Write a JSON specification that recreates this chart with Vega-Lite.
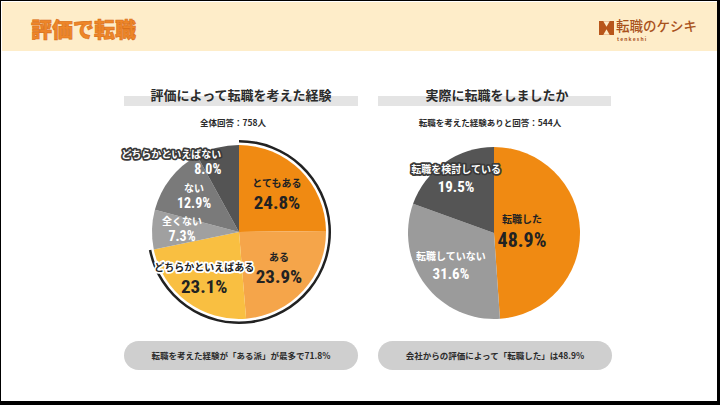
{
  "$schema": "https://vega.github.io/schema/vega-lite/v6.json",
  "width": 720,
  "height": 405,
  "autosize": {"type": "fit", "contains": "padding"},
  "padding": 0,
  "background": "#000000",
  "config": {"view": {"stroke": null}, "font": "Noto Sans CJK JP"},
  "datasets": {
    "left": [
      {"cat": "とてもある", "v": 0.248, "k": 1},
      {"cat": "ある", "v": 0.239, "k": 2},
      {"cat": "どちらかといえばある", "v": 0.231, "k": 3},
      {"cat": "全くない", "v": 0.073, "k": 4},
      {"cat": "ない", "v": 0.129, "k": 5},
      {"cat": "どちらかといえばない", "v": 0.080, "k": 6}
    ],
    "right": [
      {"cat": "転職した", "v": 0.489, "k": 1},
      {"cat": "転職していない", "v": 0.316, "k": 2},
      {"cat": "転職を検討している", "v": 0.195, "k": 3}
    ],
    "ring": [
      {"g": "ある派", "v": 0.718, "k": 1},
      {"g": "その他", "v": 0.282, "k": 2}
    ],
    "one": [{"id": 1}]
  },
  "layer": [
    {"data": {"name": "one"}, "mark": {"type": "rect", "x": 0, "x2": 716, "y": 0, "y2": 400, "color": "#ffffff"}, "encoding": {}},
    {"data": {"name": "one"}, "mark": {"type": "rect", "x": 1, "x2": 716, "y": 1, "y2": 50, "color": "#FEEDC9"}, "encoding": {}},
    {"data": {"name": "one"}, "mark": {"type": "text", "x": 30, "y": 30, "align": "left", "baseline": "middle", "fontSize": 21, "fontWeight": 900, "color": "#EE8628", "stroke": "#D9701A", "strokeWidth": 0.6, "text": "評価で転職"}, "encoding": {}},
    {"data": {"name": "one"}, "mark": {"type": "rect", "x": 598, "x2": 613, "y": 20, "y2": 34, "color": "#B8561A"}, "encoding": {}},
    {"data": {"name": "one"}, "mark": {"type": "point", "shape": "triangle-down", "x": 605.5, "y": 23, "size": 40, "filled": true, "color": "#FEEDC9", "opacity": 1}, "encoding": {}},
    {"data": {"name": "one"}, "mark": {"type": "point", "shape": "triangle-up", "x": 605.5, "y": 31, "size": 40, "filled": true, "color": "#FEEDC9", "opacity": 1}, "encoding": {}},
    {"data": {"name": "one"}, "mark": {"type": "text", "x": 615, "y": 26, "align": "left", "baseline": "middle", "fontSize": 13.5, "fontWeight": 500, "color": "#A9521C", "text": "転職のケシキ"}, "encoding": {}},
    {"data": {"name": "one"}, "mark": {"type": "text", "x": 616, "y": 38, "align": "left", "baseline": "middle", "fontSize": 5, "fontWeight": "bold", "color": "#A9521C", "text": "t    e    n    k    e    s    h    i"}, "encoding": {}},

    {"data": {"name": "one"}, "mark": {"type": "rect", "x": 123, "x2": 357, "y": 95, "y2": 105, "color": "#E4E4E4"}, "encoding": {}},
    {"data": {"name": "one"}, "mark": {"type": "rect", "x": 377, "x2": 610, "y": 95, "y2": 105, "color": "#E4E4E4"}, "encoding": {}},
    {"data": {"name": "one"}, "mark": {"type": "text", "x": 240, "y": 95, "align": "center", "baseline": "middle", "fontSize": 13, "fontWeight": "bold", "color": "#2b2b2b", "text": "評価によって転職を考えた経験"}, "encoding": {}},
    {"data": {"name": "one"}, "mark": {"type": "text", "x": 496, "y": 95, "align": "center", "baseline": "middle", "fontSize": 13, "fontWeight": "bold", "color": "#2b2b2b", "text": "実際に転職をしましたか"}, "encoding": {}},
    {"data": {"name": "one"}, "mark": {"type": "text", "x": 232, "y": 122, "align": "center", "baseline": "middle", "fontSize": 8.5, "fontWeight": "bold", "color": "#2b2b2b", "text": "全体回答：758人"}, "encoding": {}},
    {"data": {"name": "one"}, "mark": {"type": "text", "x": 489, "y": 122, "align": "center", "baseline": "middle", "fontSize": 8.5, "fontWeight": "bold", "color": "#2b2b2b", "text": "転職を考えた経験ありと回答：544人"}, "encoding": {}},
    {"data": {"name": "one"}, "mark": {"type": "rule", "x": 367, "y": 135, "y2": 357, "color": "#D2D2D2", "strokeWidth": 2}, "encoding": {}},

    {
      "data": {"name": "ring"},
      "mark": {"type": "arc", "x": 238, "y": 231, "radius": 92, "radius2": 89.5},
      "encoding": {
        "theta": {"field": "v", "type": "quantitative", "stack": true, "scale": {"domain": [0, 1]}},
        "order": {"field": "k", "type": "quantitative"},
        "detail": {"field": "g"},
        "color": {"condition": {"test": "datum.g == 'ある派'", "value": "#222222"}, "value": "transparent"}
      }
    },
    {
      "data": {"name": "left"},
      "mark": {"type": "arc", "x": 238, "y": 231, "radius": 87},
      "encoding": {
        "theta": {"field": "v", "type": "quantitative", "stack": true, "scale": {"domain": [0, 1]}},
        "order": {"field": "k", "type": "quantitative"},
        "color": {
          "field": "cat", "type": "nominal", "legend": null,
          "scale": {
            "domain": ["とてもある", "ある", "どちらかといえばある", "全くない", "ない", "どちらかといえばない", "転職した", "転職していない", "転職を検討している"],
            "range": ["#F08A12", "#F5A54A", "#F9BF41", "#A0A0A0", "#7A7A7A", "#545454", "#F08A12", "#9B9B9B", "#555555"]
          }
        }
      }
    },
    {
      "data": {"name": "right"},
      "mark": {"type": "arc", "x": 493, "y": 232, "radius": 86},
      "encoding": {
        "theta": {"field": "v", "type": "quantitative", "stack": true, "scale": {"domain": [0, 1]}},
        "order": {"field": "k", "type": "quantitative"},
        "color": {"field": "cat", "type": "nominal", "legend": null}
      }
    },

    {
      "data": {"name": "left"},
      "mark": {"type": "text", "x": 238, "y": 231, "radius": {"expr": "datum.k == 6 ? 71 : datum.k == 3 ? 58 : datum.k >= 4 ? 57 : 54"}, "align": {"expr": "datum.k == 6 ? 'right' : 'center'"}, "dy": {"expr": "datum.v > 0.2 ? -10 : -8"}, "fontSize": 10, "fontWeight": "bold", "strokeWidth": 3.5, "strokeJoin": "round"},
      "encoding": {
        "theta": {"field": "v", "type": "quantitative", "stack": true},
        "order": {"field": "k", "type": "quantitative"},
        "detail": {"field": "cat"},
        "text": {"field": "cat"},
        "fill": {"condition": [{"test": "datum.cat == 'どちらかといえばある'", "value": "#ffffff"}, {"test": "datum.cat == 'どちらかといえばない'", "value": "#3a3a3a"}], "value": "transparent"},
        "stroke": {"condition": [{"test": "datum.cat == 'どちらかといえばある'", "value": "#ffffff"}, {"test": "datum.cat == 'どちらかといえばない'", "value": "#3a3a3a"}], "value": "transparent"}
      }
    },
    {
      "data": {"name": "left"},
      "mark": {"type": "text", "x": 238, "y": 231, "radius": {"expr": "datum.k == 6 ? 71 : datum.k == 3 ? 58 : datum.k >= 4 ? 57 : 54"}, "align": {"expr": "datum.k == 6 ? 'right' : 'center'"}, "dy": {"expr": "datum.v > 0.2 ? -10 : -8"}, "fontSize": 10, "fontWeight": "bold"},
      "encoding": {
        "theta": {"field": "v", "type": "quantitative", "stack": true},
        "order": {"field": "k", "type": "quantitative"},
        "detail": {"field": "cat"},
        "text": {"field": "cat"},
        "fill": {"condition": {"test": "datum.k <= 3", "value": "#222222"}, "value": "#ffffff"}
      }
    },
    {
      "data": {"name": "left"},
      "mark": {"type": "text", "x": 238, "y": 231, "radius": {"expr": "datum.k == 6 ? 71 : datum.k == 3 ? 58 : datum.k >= 4 ? 57 : 54"}, "align": {"expr": "datum.k == 6 ? 'right' : 'center'"}, "dy": {"expr": "datum.v > 0.2 ? 9 : 7"}, "fontSize": {"expr": "datum.v > 0.2 ? 19 : 14"}, "fontWeight": "bold", "font": "Roboto Condensed, DejaVu Sans Condensed, Liberation Sans Narrow, Roboto"},
      "encoding": {
        "theta": {"field": "v", "type": "quantitative", "stack": true},
        "order": {"field": "k", "type": "quantitative"},
        "detail": {"field": "cat"},
        "text": {"field": "v", "type": "quantitative", "format": ".1%"},
        "fill": {"condition": {"test": "datum.k <= 3", "value": "#222222"}, "value": "#ffffff"}
      }
    },

    {
      "data": {"name": "right"},
      "mark": {"type": "text", "x": 493, "y": 232, "radius": {"expr": "datum.v > 0.4 ? 28 : datum.v > 0.25 ? 54 : 66"}, "dy": {"expr": "datum.v > 0.4 ? -12 : -9"}, "fontSize": 10, "fontWeight": "bold", "strokeWidth": 3.5, "strokeJoin": "round"},
      "encoding": {
        "theta": {"field": "v", "type": "quantitative", "stack": true},
        "order": {"field": "k", "type": "quantitative"},
        "detail": {"field": "cat"},
        "text": {"field": "cat"},
        "fill": {"condition": {"test": "datum.cat == '転職を検討している'", "value": "#3a3a3a"}, "value": "transparent"},
        "stroke": {"condition": {"test": "datum.cat == '転職を検討している'", "value": "#3a3a3a"}, "value": "transparent"}
      }
    },
    {
      "data": {"name": "right"},
      "mark": {"type": "text", "x": 493, "y": 232, "radius": {"expr": "datum.v > 0.4 ? 28 : datum.v > 0.25 ? 54 : 66"}, "dy": {"expr": "datum.v > 0.4 ? -12 : -9"}, "fontSize": 10, "fontWeight": "bold"},
      "encoding": {
        "theta": {"field": "v", "type": "quantitative", "stack": true},
        "order": {"field": "k", "type": "quantitative"},
        "detail": {"field": "cat"},
        "text": {"field": "cat"},
        "fill": {"condition": {"test": "datum.k == 1", "value": "#222222"}, "value": "#ffffff"}
      }
    },
    {
      "data": {"name": "right"},
      "mark": {"type": "text", "x": 493, "y": 232, "radius": {"expr": "datum.v > 0.4 ? 28 : datum.v > 0.25 ? 54 : 66"}, "dy": {"expr": "datum.v > 0.4 ? 9 : 8"}, "fontSize": {"expr": "datum.v > 0.4 ? 20 : 15"}, "fontWeight": "bold", "font": "Roboto Condensed, DejaVu Sans Condensed, Liberation Sans Narrow, Roboto"},
      "encoding": {
        "theta": {"field": "v", "type": "quantitative", "stack": true},
        "order": {"field": "k", "type": "quantitative"},
        "detail": {"field": "cat"},
        "text": {"field": "v", "type": "quantitative", "format": ".1%"},
        "fill": {"condition": {"test": "datum.k == 1", "value": "#222222"}, "value": "#ffffff"}
      }
    },

    {"data": {"name": "one"}, "mark": {"type": "rect", "x": 123, "x2": 357, "y": 340, "y2": 369, "cornerRadius": 14.5, "color": "#CFCFCF"}, "encoding": {}},
    {"data": {"name": "one"}, "mark": {"type": "rect", "x": 377, "x2": 611, "y": 340, "y2": 369, "cornerRadius": 14.5, "color": "#CFCFCF"}, "encoding": {}},
    {"data": {"name": "one"}, "mark": {"type": "text", "x": 240, "y": 355, "align": "center", "baseline": "middle", "fontSize": 8.5, "fontWeight": "bold", "color": "#2b2b2b", "text": "転職を考えた経験が「ある派」が最多で71.8%"}, "encoding": {}},
    {"data": {"name": "one"}, "mark": {"type": "text", "x": 494, "y": 355, "align": "center", "baseline": "middle", "fontSize": 8.5, "fontWeight": "bold", "color": "#2b2b2b", "text": "会社からの評価によって「転職した」は48.9%"}, "encoding": {}}
  ]
}
